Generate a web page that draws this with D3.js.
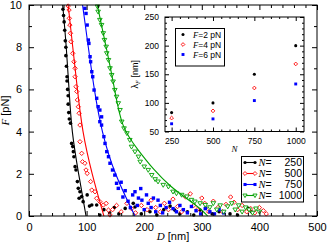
<!DOCTYPE html>
<html>
<head>
<meta charset="utf-8">
<script src="https://cdn.jsdelivr.net/npm/d3@7"></script>
<style>
  body { margin: 0; background: #fff; }
  svg { display: block; font-family: "Liberation Sans", Arial, sans-serif; }
</style>
</head>
<body>
<div id="chart"></div>
<script>
// ---- data ----
// main panel: [D (nm), F (pN)]
const pts250 = [
  [59,9.8],[60,9.5],[61,9.2],[62,8.8],[63,8.3],[64,8.0],[64,7.6],[65,7.1],[66,6.6],[66,6.4],
  [67,6.0],[68,5.7],[68,5.3],[69,4.9],[70,4.6],[72,4.4],[74,3.44],[76,3.29],[77,3.05],[78,2.81],
  [80,2.34],[81.6,2.18],[84,1.63],[85.6,1.31],[88.5,1.15],[87,0.84],[91.5,0.92],[94,0.68],[101,1.0],
  [105,0.47],[109,0.52],[117.5,0.52],[123,0.05],[130,0.3],[140,0.15],[148,0.4],[156,0.1],[167,0.36],
  [181,0.6],[184,0.43],[195,0.1],[210,0.2],[222,0.05],[234,0.3],[245,0.47],[253,0.28],[262,0.1],
  [275,0.2],[286,0.05],[297,0.28],[307,0.38],[318,0.1],[330,0.2],[349,0.1],[362,0.05],[381,0.36],[386,0.2]
];
const pts500 = [
  [68,9.95],[69.5,9.76],[70,9.37],[71,9.05],[72,8.66],[73,8.26],[76,7.71],[78,7.31],[80,7.0],[80,6.6],
  [81.6,6.13],[83,5.9],[84,5.5],[85.6,5.18],[87,4.87],[88.5,4.31],[88.5,3.52],[91.5,2.97],[93,2.57],
  [97,2.5],[99,2.18],[101,2.02],[107,1.63],[109,1.23],[114.6,1.15],[117.5,0.84],[123,0.68],[129,0.52],
  [134,0.6],[138,0.28],[140.6,0.05],[145,0.3],[152,0.5],[160,0.2],[170,0.6],[178,0.35],[185,0.15],
  [195,0.5],[205,0.3],[212,0.75],[220,0.4],[228,0.2],[235,0.6],[242,0.3],[250,0.8],[258,0.45],
  [265,0.2],[272,0.9],[280,1.05],[286,0.5],[292,0.3],[300,0.85],[305,0.6],[312,0.2],[320,0.7],
  [328,0.4],[336,0.2],[342,0.55],[350,0.9],[356,0.65],[362,0.3],[370,0.5],[378,0.2],[385,0.35],
  [392,0.15],[400,0.4],[407,0.25],[412,0.1]
];
const pts750 = [
  [97,9.84],[99,9.6],[101,9.05],[103,8.34],[104,8.18],[106,7.55],[107,7.31],[109,6.84],[110.6,6.6],
  [113,5.97],[117.5,5.58],[120,5.18],[123,5.02],[126,4.7],[123,4.47],[126,4.31],[130,3.76],[132,3.44],
  [135,3.05],[138,2.81],[140.6,2.5],[145,2.18],[149,1.94],[152,1.55],[155,1.31],[160,1.6],[163,0.9],
  [167,1.2],[172,0.7],[176,0.4],[180,1.0],[184,1.15],[188,0.5],[190,0.85],[194,1.3],[196,0.75],
  [200,0.3],[204,1.0],[207,0.6],[212,0.4],[216,0.85],[220,0.2],[224,0.75],[228,0.5],[232,0.15],
  [238,0.4],[244,0.65],[250,0.35],[256,0.2],[262,0.5],[268,0.3],[275,0.15],[282,0.45],[290,0.25],
  [298,0.1],[306,0.35],[314,0.2],[322,0.1],[330,0.3],[338,0.15]
];
const pts1000 = [
  [119,9.92],[120,9.68],[123,9.29],[126,9.05],[129,8.66],[131,8.34],[134,8.02],[135,7.71],[138,7.39],
  [140.6,7.0],[143.6,6.68],[146,6.37],[149,5.97],[152,5.65],[155,5.34],[158,5.02],[161,4.47],[165,4.15],
  [170,3.92],[175,3.6],[178,3.28],[184,3.05],[190,2.81],[193,2.57],[200,2.34],[207,2.18],[213,1.94],
  [219,1.74],[224,1.63],[233,1.47],[242,1.39],[250,1.15],[256,1.07],[265,1.0],[274,0.92],[282,0.76],
  [288,0.68],[297,0.6],[306,0.52],[314,0.41],[320,0.6],[326,0.3],[332,0.5],[338,0.2],[345,0.45],
  [352,0.6],[358,0.3],[364,0.5],[370,0.2],[376,0.4],[382,0.3],[388,0.15],[394,0.35],[400,0.2]
];

// fitted curves
const fit250 = [[58.5,10],[65,8],[69.5,6],[74,4],[86,2],[99,0]];
const fit500 = [[68,10],[76,8],[84,6],[92.5,4],[109,2],[130,0]];
const fit750 = [[93,10],[103,8],[113,6],[126,4],[148,2],[184,0]];
const fit1000 = [[118.6,10],[134,8],[149,6],[160,4.2],[190,3.1],[216,2.2],[245,1.4],[275,0.8],[300,0.3],[310,0]];

const seriesLabels = ["250", "500", "750", "1000"];

// inset: lambda_F vs N
const insetN = [250, 500, 750, 1000];
const lambdaF2 = [83, 100, 150, 200];
const lambdaF4 = [73.5, 86, 126, 168];
const lambdaF6 = [63.5, 72, 104, 133];
const insetLabels = ["2", "4", "6"];

const xTicks = [0, 100, 200, 300, 400, 500];
const yTicks = [0, 2, 4, 6, 8, 10];
const insetXTicks = [250, 500, 750, 1000];
const insetYTicks = [50, 100, 150, 200, 250];

// ---- layout ----
const W = 327, H = 242;
const margin = { top: 5, right: 10, bottom: 26, left: 29 };
const width = W - margin.left - margin.right;   // 288
const height = H - margin.top - margin.bottom;  // 211

const colors = ["#000000", "#ff0000", "#0000ff", "#00a000"];
const serif = "Liberation Serif, Times New Roman, serif";

const svg = d3.select("#chart").append("svg")
  .attr("width", W).attr("height", H);

const g = svg.append("g")
  .attr("transform", `translate(${margin.left},${margin.top})`);

const x = d3.scaleLinear().domain([0, 500]).range([0, width]);
const y = d3.scaleLinear().domain([0, 10]).range([height, 0]);

// markers (s = size factor)
function drawMarker(sel, type, color, s) {
  s = s || 1;
  if (type === 0) {
    sel.append("circle").attr("r", 1.8 * s).attr("fill", color);
  } else if (type === 1) {
    const r = 2.2 * s;
    sel.append("path").attr("d", `M0,${-r}L${r},0L0,${r}L${-r},0Z`)
      .attr("fill", "#fff").attr("stroke", color).attr("stroke-width", 0.9);
  } else if (type === 2) {
    const r = 1.7 * s;
    sel.append("rect").attr("x", -r).attr("y", -r).attr("width", 2 * r).attr("height", 2 * r).attr("fill", color);
  } else {
    const r = 2.3 * s;
    sel.append("path").attr("d", `M${-r},${-r * 0.7}L${r},${-r * 0.7}L0,${r}Z`)
      .attr("fill", "#fff").attr("stroke", color).attr("stroke-width", 0.9);
  }
}

// frame + ticks (inward, mirrored)
function frameAxes(grp, xs, ys, xt, yt, xMinor, yMinor, fs, majorLen, minorLen) {
  const w = xs.range()[1], h = ys.range()[0];
  grp.append("g").attr("transform", `translate(0,${h})`)
    .call(d3.axisBottom(xs).tickValues(xMinor).tickSize(-minorLen).tickFormat(""));
  grp.append("g").attr("transform", `translate(0,${h})`)
    .call(d3.axisBottom(xs).tickValues(xt).tickSize(-majorLen).tickPadding(majorLen + 2).tickFormat(d3.format("d")))
    .call(a => a.selectAll("text").attr("font-size", fs));
  grp.append("g")
    .call(d3.axisTop(xs).tickValues(xMinor).tickSize(-minorLen).tickFormat(""));
  grp.append("g")
    .call(d3.axisTop(xs).tickValues(xt).tickSize(-majorLen).tickFormat(""));
  grp.append("g")
    .call(d3.axisLeft(ys).tickValues(yMinor).tickSize(-minorLen).tickFormat(""));
  grp.append("g")
    .call(d3.axisLeft(ys).tickValues(yt).tickSize(-majorLen).tickPadding(majorLen + 2).tickFormat(d3.format("d")))
    .call(a => a.selectAll("text").attr("font-size", fs));
  grp.append("g").attr("transform", `translate(${w},0)`)
    .call(d3.axisRight(ys).tickValues(yMinor).tickSize(-minorLen).tickFormat(""));
  grp.append("g").attr("transform", `translate(${w},0)`)
    .call(d3.axisRight(ys).tickValues(yt).tickSize(-majorLen).tickFormat(""));
  grp.selectAll(".domain").remove();
  grp.selectAll(".tick line").attr("stroke", "#000");
  grp.selectAll(".tick text").attr("fill", "#000").attr("font-family", "Liberation Sans, Arial, sans-serif");
  grp.append("rect").attr("width", w).attr("height", h)
    .attr("fill", "none").attr("stroke", "#000").attr("stroke-width", 1);
}

// ---- main panel ----
const plot = g.append("g");
const allPts = [pts250, pts500, pts750, pts1000];
const allFits = [fit250, fit500, fit750, fit1000];

allPts.forEach((pts, i) => {
  plot.selectAll(null).data(pts).enter().append("g")
    .attr("transform", d => `translate(${x(d[0])},${y(d[1])})`)
    .each(function() { drawMarker(d3.select(this), i, colors[i]); });
});

allFits.forEach((fit, i) => {
  plot.append("path").datum(fit)
    .attr("d", d3.line().x(d => x(d[0])).y(d => y(d[1])).curve(d3.curveBasis))
    .attr("fill", "none").attr("stroke", colors[i]).attr("stroke-width", 1.1);
});

const xMinorMain = d3.range(0, 501, 20).filter(v => v % 100 !== 0);
const yMinorMain = d3.range(0, 11, 1).filter(v => v % 2 !== 0);
frameAxes(g, x, y, xTicks, yTicks, xMinorMain, yMinorMain, 11, 5, 3);

// axis titles
g.append("text")
  .attr("x", width / 2).attr("y", height + 24)
  .attr("text-anchor", "middle").attr("font-size", 11)
  .html(`<tspan font-style="italic" font-family="${serif}">D</tspan> [nm]`);

g.append("text")
  .attr("transform", `translate(${-20},${height / 2}) rotate(-90)`)
  .attr("text-anchor", "middle").attr("font-size", 11)
  .html(`<tspan font-style="italic" font-family="${serif}">F</tspan> [pN]`);

// main legend
const leg = svg.append("g");
leg.append("rect").attr("x", 241.5).attr("y", 156.5).attr("width", 62).attr("height", 45.5)
  .attr("fill", "#fff").attr("stroke", "#000").attr("stroke-width", 1);
seriesLabels.forEach((lab, i) => {
  const yy = 162.5 + i * 11;
  leg.append("line").attr("x1", 245).attr("x2", 255).attr("y1", yy).attr("y2", yy)
    .attr("stroke", colors[i]).attr("stroke-width", 1.1);
  [245, 255].forEach(xx => drawMarker(leg.append("g").attr("transform", `translate(${xx},${yy})`), i, colors[i], 0.9));
  leg.append("text").attr("x", 258.5).attr("y", yy + 3.8).attr("font-size", 10.5)
    .html(`<tspan font-style="italic" font-family="${serif}">N</tspan>=`);
  leg.append("text").attr("x", 302).attr("y", yy + 3.8).attr("font-size", 10.5)
    .attr("text-anchor", "end").text(lab);
});

// ---- inset ----
const inset = { left: 165, top: 17, right: 304, bottom: 131.5 };
const gi = svg.append("g").attr("transform", `translate(${inset.left},${inset.top})`);
const xi = d3.scaleLinear().domain([210, 1050]).range([0, inset.right - inset.left]);
const yi = d3.scaleLinear().domain([50, 250]).range([inset.bottom - inset.top, 0]);

gi.append("rect").attr("width", xi.range()[1]).attr("height", yi.range()[0]).attr("fill", "#fff");

const xMinorIn = d3.range(250, 1050, 50).filter(v => v % 250 !== 0);
const yMinorIn = d3.range(50, 251, 10).filter(v => v % 50 !== 0);
frameAxes(gi, xi, yi, insetXTicks, insetYTicks, xMinorIn, yMinorIn, 8.5, 4, 2);

const insetSeries = [lambdaF2, lambdaF4, lambdaF6];
insetSeries.forEach((vals, i) => {
  gi.selectAll(null).data(vals).enter().append("g")
    .attr("transform", (d, j) => `translate(${xi(insetN[j])},${yi(d)})`)
    .each(function() { drawMarker(d3.select(this), i, colors[i], 0.85); });
});

gi.append("text")
  .attr("x", xi.range()[1] / 2).attr("y", yi.range()[0] + 20)
  .attr("text-anchor", "middle").attr("font-size", 9)
  .attr("font-style", "italic").attr("font-family", serif)
  .text("N");

gi.append("text")
  .attr("transform", `translate(${-27},${yi.range()[0] / 2}) rotate(-90)`)
  .attr("text-anchor", "middle").attr("font-size", 9)
  .html(`λ<tspan font-size="6.5" dy="2" font-style="italic" font-family="${serif}">F</tspan><tspan dy="-2"> [nm]</tspan>`);

// inset legend
const li = svg.append("g");
li.append("rect").attr("x", 175.5).attr("y", 28.5).attr("width", 49).attr("height", 37.5)
  .attr("fill", "#fff").attr("stroke", "#000").attr("stroke-width", 1);
insetLabels.forEach((lab, i) => {
  const yy = 34.5 + i * 10;
  drawMarker(li.append("g").attr("transform", `translate(183,${yy})`), i, colors[i], 0.85);
  li.append("text").attr("x", 193).attr("y", yy + 3).attr("font-size", 8.5)
    .html(`<tspan font-style="italic" font-family="${serif}">F</tspan>=${lab} pN`);
});
</script>
</body>
</html>
